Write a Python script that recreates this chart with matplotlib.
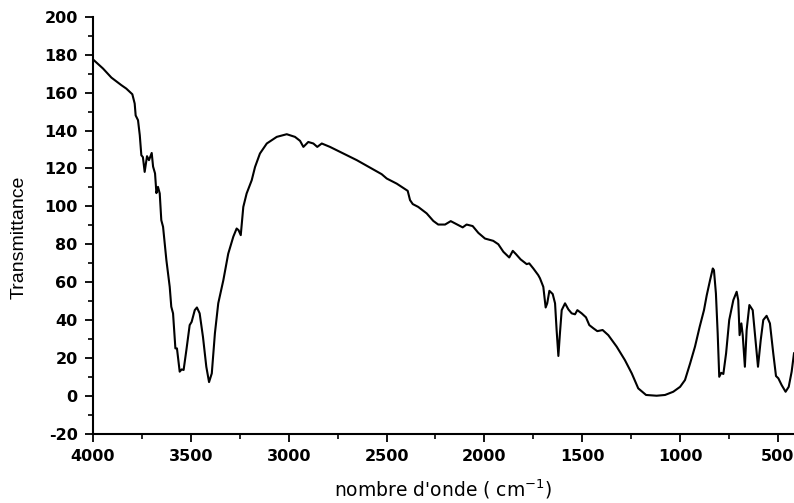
import matplotlib
matplotlib.use("Agg")
import matplotlib.pyplot as plt
from matplotlib.ticker import MultipleLocator

plt.rcParams["axes.unicode_minus"] = False

wavenumber = [4000, 3949, 3906, 3855, 3830, 3799, 3787, 3782, 3770, 3761, 3753, 3745, 3736,
              3724, 3714, 3700, 3693, 3683, 3676, 3668, 3659, 3651, 3642, 3625, 3608, 3600,
              3591, 3579, 3571, 3557, 3547, 3537, 3523, 3506, 3496, 3480, 3469, 3455, 3438,
              3421, 3407, 3393, 3377, 3360, 3334, 3309, 3283, 3266, 3256, 3245, 3232, 3215,
              3189, 3172, 3147, 3112, 3061, 3010, 2968, 2942, 2925, 2900, 2874, 2854, 2831,
              2789, 2652, 2525, 2499, 2448, 2392, 2380, 2366, 2338, 2295, 2261, 2236, 2201,
              2172, 2142, 2111, 2091, 2060, 2031, 1997, 1955, 1929, 1903, 1873, 1855, 1839,
              1815, 1784, 1771, 1750, 1725, 1716, 1699, 1687, 1679, 1668, 1651, 1639, 1631,
              1622, 1614, 1605, 1588, 1571, 1554, 1537, 1525, 1503, 1481, 1464, 1443, 1423,
              1396, 1367, 1324, 1282, 1247, 1214, 1174, 1120, 1077, 1035, 1000, 975, 949,
              924, 900, 878, 864, 847, 833, 827, 817, 808, 800, 790, 779, 765, 749, 728, 711,
              703, 696, 687, 680, 669, 660, 646, 629, 616, 602, 588, 575, 558, 541, 524, 510,
              498, 481, 461, 445, 430, 418]
transmittance = [177.6, 172.8, 168.0, 164.0, 162.2, 159.2, 154.3, 148.0, 145.5, 137.6, 127.0,
                 126.0, 118.2, 126.5, 124.4, 128.2, 121.0, 117.4, 107.0, 110.3, 106.8, 92.7,
                 89.2, 71.6, 57.5, 47.0, 43.5, 25.0, 25.0, 12.7, 13.9, 13.6, 24.0, 37.3, 39.0,
                 45.2, 46.6, 43.5, 31.0, 15.3, 7.2, 11.8, 33.0, 48.8, 61.0, 75.0, 84.0, 88.3,
                 87.4, 84.8, 99.7, 106.8, 113.8, 120.8, 127.9, 133.2, 136.7, 138.1, 136.7,
                 134.6, 131.4, 134.0, 133.2, 131.4, 133.2, 131.4, 124.4, 117.0, 114.7, 112.0,
                 108.2, 103.3, 101.2, 99.7, 96.3, 92.3, 90.4, 90.4, 92.2, 90.6, 88.9, 90.4,
                 89.6, 86.0, 83.0, 81.8, 80.0, 76.0, 73.0, 76.5, 74.8, 72.0, 69.5, 69.9, 67.2,
                 63.7, 62.0, 57.5, 46.6, 48.8, 55.4, 53.7, 48.8, 34.7, 21.0, 33.0, 45.2, 48.8,
                 45.6, 43.5, 43.0, 45.2, 43.5, 41.4, 37.3, 35.6, 34.1, 34.7, 32.0, 25.9, 18.8,
                 11.8, 3.9, 0.4, 0.0, 0.4, 2.1, 4.7, 8.3, 17.0, 25.9, 36.4, 45.2, 53.0, 61.0,
                 67.2, 66.3, 54.0, 33.0, 10.0, 12.1, 11.5, 22.4, 40.0, 50.5, 54.9, 50.5, 32.0,
                 38.2, 32.0, 15.3, 34.7, 47.9, 45.2, 31.0, 15.3, 29.4, 40.0, 42.2, 38.2, 22.4,
                 10.4, 9.2, 5.6, 2.1, 4.7, 12.7, 22.4]

x_ticks = [4000, 3500, 3000, 2500, 2000, 1500, 1000, 500]
y_ticks = [-20, 0, 20, 40, 60, 80, 100, 120, 140, 160, 180, 200]

fig = plt.figure(figsize=(7.94, 5.03), dpi=100)
ax = fig.add_axes([93 / 794, 1 - 433.6 / 503, 1 - 93 / 794, (433.6 - 17) / 503])

ax.plot(wavenumber, transmittance, color="black", linewidth=1.5)

ax.set_xlim(4000, 418)
ax.set_ylim(-20, 200)
ax.set_xticks(x_ticks)
ax.set_yticks(y_ticks)
ax.xaxis.set_minor_locator(MultipleLocator(250))
ax.yaxis.set_minor_locator(MultipleLocator(10))

for s in ["top", "right"]:
    ax.spines[s].set_visible(False)
for s in ["left", "bottom"]:
    ax.spines[s].set_linewidth(1.5)

ax.tick_params(which="major", direction="out", length=6, width=1.3, pad=5)
ax.tick_params(which="minor", direction="out", length=3.5, width=1.2)
for lab in ax.get_xticklabels() + ax.get_yticklabels():
    lab.set_fontfamily("DejaVu Sans")
    lab.set_fontweight("bold")
    lab.set_fontsize(11.5)

ax.set_xlabel("nombre d'onde ( cm$^{\\mathregular{-1}}$)", fontfamily="DejaVu Sans",
              fontsize=13.5, labelpad=10)
ax.set_ylabel("Transmittance", fontfamily="Liberation Sans", fontsize=14)
ax.yaxis.set_label_coords(-0.093, 0.472)

fig.savefig("out.png", dpi=100)
